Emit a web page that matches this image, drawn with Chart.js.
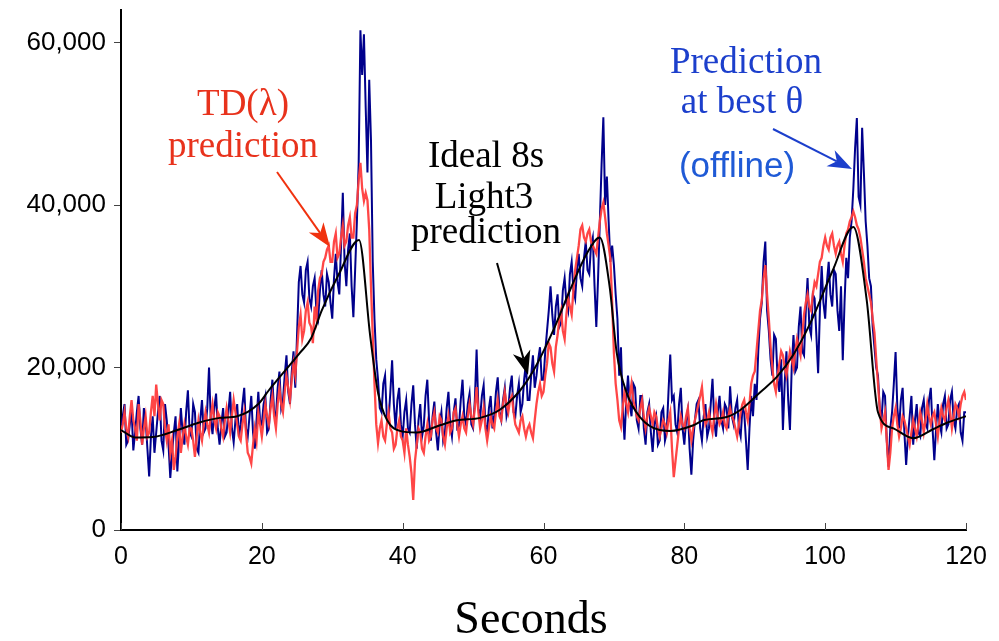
<!DOCTYPE html>
<html>
<head>
<meta charset="utf-8">
<script src="https://cdn.jsdelivr.net/npm/chart.js@4.4.1/dist/chart.umd.min.js"></script>
<style>
  html, body { margin: 0; padding: 0; background: #fff; }
  #wrap { width: 999px; height: 641px; position: relative; }
</style>
</head>
<body>
<div id="wrap"><canvas id="chart"></canvas></div>
<script>
// time grid of the noisy traces (seconds, every 0.25 s)
const times = Array.from({ length: 481 }, (_, i) => i * 0.25);

// offline prediction at best theta (dark blue), one row = 5 s
const offlineValues = [
  12500, 14000, 15500, 10500, 11000, 13000, 14800, 9800, 12000, 14500, 16500, 12500, 10500, 15000, 13500, 10000, 6600, 11500, 14000, 9500,
  12000, 14500, 16500, 11000, 9800, 15500, 13500, 10500, 6400, 9500, 12000, 14000, 7200, 11000, 15000, 12000, 10500, 14500, 17200, 12000,
  11500, 15500, 14500, 10000, 9500, 13500, 16000, 12000, 12500, 15000, 20000, 13500, 11800, 15000, 16800, 12500, 10500, 13000, 15000, 11500,
  12000, 14500, 17000, 12500, 10800, 13500, 15500, 11500, 13000, 15500, 17500, 12500, 11500, 14000, 16500, 12000, 10000, 13500, 17000, 13500,
  13000, 15500, 16500, 12000, 12500, 16000, 18500, 14500, 14000, 17500, 19500, 15000, 16000, 19000, 21500, 17000, 15500, 19500, 22000, 17500,
  24000, 30500, 32500, 29000, 28000, 32000, 33000, 28500, 27500, 30000, 31000, 27000, 26000, 29500, 32000, 29000, 27500, 31500, 30500, 28000,
  26000, 31000, 34000, 30500, 29000, 35000, 41500, 33000, 30000, 34500, 36500, 30000, 26200, 32000, 38000, 45000, 61500, 56000, 61000, 52000,
  44000, 55400, 48000, 33000, 25900, 21000, 18500, 15000, 14500, 18000, 19000, 14000, 13500, 17000, 20900, 15500, 12500, 16000, 17500, 13000,
  11500, 14500, 16000, 12500, 12000, 15500, 17800, 13000, 10000, 13500, 15500, 11500, 12800, 16500, 18500, 13500, 11000, 14000, 15800, 12000,
  9800, 13000, 14500, 11000, 12000, 15000, 17000, 13000, 11500, 14500, 16200, 12500, 12800, 16000, 18500, 14000, 13000, 15500, 16800, 13000,
  12500, 16000, 22200, 15000, 13800, 16500, 17800, 13000, 12000, 15000, 16500, 12500, 14000, 17000, 18800, 14500, 13500, 16000, 17500, 14000,
  15000, 17500, 19000, 14500, 14000, 16500, 18000, 14500, 15500, 18500, 20500, 16000, 16000, 19000, 21500, 17500, 19000, 21000, 22500, 18500,
  18500, 22000, 24500, 27000, 30000, 26500, 24000, 27500, 29000, 25000, 25500, 29500, 31000, 28000, 27000, 31500, 33000, 29500, 28500, 32000,
  34000, 31000, 30000, 33500, 35500, 32000, 31500, 35000, 36000, 30000, 25000, 31000, 38000, 45000, 50800, 40000, 43500, 38000, 33000, 35000,
  32600, 29000, 26000, 19000, 22500, 15000, 11100, 16000, 19000, 15500, 14000, 18000, 17500, 13500, 12500, 16500, 16500, 12500, 10500, 14500,
  15500, 12000, 9600, 13000, 14000, 10500, 11000, 14500, 15000, 11000, 12000, 17000, 21600, 16000, 16500, 13000, 12000, 15500, 17500, 12500,
  10500, 13500, 14800, 10000, 6800, 11000, 13500, 15500, 16000, 12500, 11000, 14000, 15500, 11500, 12500, 15500, 18600, 13500, 11500, 14500,
  16500, 13500, 12500, 15500, 15000, 12500, 17700, 14000, 13000, 15000, 16000, 12500, 11500, 15000, 14500, 11000, 7400, 12500, 16500, 14000,
  18000, 16000, 22000, 26000, 28000, 33000, 35500, 27000, 24500, 21000, 19000, 24000, 23500, 18500, 17000, 21000, 12300, 18000, 22000, 16000,
  12300, 20000, 24000, 19500, 20000, 25000, 27500, 22000, 21500, 27000, 31000, 25000, 24000, 29000, 28500, 24000, 19300, 27000, 32500, 28000,
  26000, 30500, 33000, 29000, 27500, 32000, 31500, 27000, 24500, 30000, 20900, 28000, 33500, 31000, 36000, 38000, 42000, 47000, 50700, 41000,
  40000, 49500, 44000, 38000, 35000, 31000, 30000, 25000, 22500, 20000, 19000, 15000, 13500, 17000, 16500, 11000, 7800, 12500, 14500, 18000,
  21900, 15000, 12500, 16000, 17500, 12000, 8000, 11500, 14000, 16500, 10500, 13500, 15500, 12000, 11500, 15000, 16000, 13000, 12500, 16000,
  17500, 12500, 8600, 12500, 15500, 13000, 12000, 15500, 16500, 12500, 13000, 16000, 17000, 13500, 12500, 15000, 15500, 12000, 11000, 14500,
  14500
];

// TD(lambda) prediction (red), one row = 5 s
const tdValues = [
  12000, 13000, 14500, 12500, 11500, 14000, 16000, 13500, 12500, 11000, 15500, 13500, 10500, 12500, 14000, 11500, 12000, 14500, 16500, 14000,
  17900, 15500, 13500, 16000, 15500, 12500, 11000, 13000, 9500, 11000, 7400, 9000, 11500, 13000, 9500, 11500, 13000, 11500, 10500, 12500,
  12500, 11000, 9000, 11500, 13500, 12000, 11000, 13000, 14500, 13000, 12000, 14000, 15500, 13500, 12500, 14500, 14000, 12500, 11500, 13500,
  15000, 13500, 12000, 14000, 16000, 14500, 13000, 11500, 11000, 13000, 14500, 12000, 9500, 9000, 8200, 10500, 12500, 11000, 14500, 13000,
  11500, 13500, 15500, 14000, 13000, 15000, 16500, 14000, 12500, 15500, 17500, 15500, 14500, 17000, 19000, 17500, 16000, 18500, 20500, 19000,
  22000, 25000, 26500, 23500, 24500, 27000, 28000, 25500, 25000, 23000, 27500, 26000, 29500, 31000, 31500, 33000, 33500, 34500, 35000, 33000,
  33000, 35500, 36500, 33500, 34000, 36000, 37500, 35000, 35500, 37500, 38500, 36000, 36000, 39000, 40000, 43000, 45200, 42000, 40500, 41500,
  40600, 37000, 30000, 24000, 18000, 13000, 10700, 12500, 13500, 11500, 11000, 13000, 14500, 12500, 12000, 10000, 10500, 12500, 13500, 11500,
  11000, 9500, 12500, 10500, 9000, 7000, 3700, 8500, 10500, 12500, 12000, 10000, 9500, 11500, 13000, 11000, 11500, 13500, 14500, 12500,
  12000, 14000, 13500, 11500, 10500, 12500, 14000, 12000, 12500, 14500, 15000, 13000, 11500, 13000, 14000, 12500, 12000, 14000, 15500, 14000,
  13000, 15000, 17600, 14500, 12500, 13500, 15000, 12500, 11000, 12500, 14000, 13000, 12500, 14500, 16000, 14000, 13500, 15500, 17000, 15500,
  14500, 16000, 16500, 14500, 13000, 12500, 12000, 13500, 14000, 12500, 11500, 12500, 13000, 12000, 11300, 13500, 15500, 17000, 18000, 16500,
  17000, 19000, 20500, 23000, 22500, 20500, 19500, 22500, 24000, 26000, 27000, 24500, 23500, 26500, 28500, 27500, 26500, 29500, 32000, 33500,
  35000, 37000, 37500, 36000, 35500, 36500, 37000, 35500, 35000, 34500, 34000, 36000, 38000, 39500, 40300, 38500, 36500, 35000, 33300, 28000,
  21800, 18000, 16000, 13500, 12700, 15000, 17000, 15500, 14500, 16500, 18000, 16000, 15000, 14000, 13500, 15000, 16000, 14000, 12500, 14000,
  15000, 14000, 13000, 14500, 14000, 12500, 11500, 12500, 13500, 13000, 12000, 13500, 14500, 10000, 6500, 8500, 10500, 12500, 14000, 13000,
  12500, 14000, 15000, 12500, 11000, 12500, 13500, 14500, 15500, 16500, 17600, 15000, 13000, 13500, 14500, 13000, 12000, 14000, 15500, 14000,
  13000, 13500, 14500, 13000, 12500, 14000, 15000, 14000, 13500, 12500, 11500, 13000, 14500, 15500, 16000, 14500, 13500, 15500, 18000, 19000,
  19500, 22000, 24500, 27000, 28300, 31000, 32600, 29000, 26000, 22500, 20000, 18000, 17000, 19000, 20500, 22000, 21500, 20000, 19000, 20500,
  22000, 21000, 20000, 22000, 23500, 22500, 21500, 24000, 26500, 28000, 29000, 27500, 27000, 29000, 30500, 30000, 31500, 33000, 33500, 35000,
  36000, 35000, 34500, 36000, 36500, 35000, 34000, 35000, 35500, 34000, 33000, 35000, 36500, 37000, 38000, 38500, 39200, 38500, 37500, 37000,
  36000, 34500, 33000, 31000, 30000, 29000, 28000, 26000, 24300, 21000, 18000, 15000, 12500, 13500, 14500, 11000, 7400, 9500, 12500, 14000,
  15000, 13000, 11500, 12500, 14000, 13500, 12500, 11500, 10500, 12000, 13500, 12500, 11500, 13000, 14500, 13500, 12000, 13500, 15500, 14000,
  13000, 14000, 14500, 13000, 11500, 13500, 15000, 14000, 13500, 15000, 16000, 14500, 12500, 14000, 15500, 15000, 14000, 15500, 16500, 17000,
  16000
];

// Ideal 8s Light3 prediction (black, smooth)
const idealTimes = [0, 2, 4.5, 8, 11, 14, 16.5, 19.5, 21, 23, 25.4, 27, 28.5, 31, 33.8,
  35.4, 36.5, 37.8, 39.6, 42, 45.3, 47.7, 51, 53.8, 56.7, 58.5, 61.4, 63.8, 66.2, 68,
  69.4, 70.4, 71.8, 73.7, 76.5, 78, 81.3, 82.7, 86, 88, 90.7, 93.2, 95.5, 97.8, 101.1, 104,
  105.9, 107.5, 109.7, 112.5, 115.3, 117.3, 120];
const idealValues = [12300, 11400, 11450, 12300, 13200, 13800, 14000, 15500, 17200, 19300, 21800, 23600, 27000, 31600, 35700,
  23800, 16900, 13500, 12200, 12000, 12900, 13500, 13800, 14800, 17200, 19500, 24600, 29600, 34100, 36000,
  29900, 21800, 16900, 13900, 12300, 12200, 12900, 13500, 13900, 14800, 16900, 18900, 21600, 25300, 32000, 37300,
  28300, 14500, 12500, 11300, 12400, 13200, 14000];

const xTicks = [0, 20, 40, 60, 80, 100, 120];
const yTicks = [0, 20000, 40000, 60000];

const pts = (xs, ys) => xs.map((x, i) => ({ x: x, y: ys[i] }));

function drawArrow(ctx, x1, y1, x2, y2, color, lw) {
    const ang = Math.atan2(y2 - y1, x2 - x1);
    const len = 24, half = 9, notch = 7;
    ctx.save();
    ctx.strokeStyle = color;
    ctx.fillStyle = color;
    ctx.lineWidth = lw;
    ctx.beginPath();
    ctx.moveTo(x1, y1);
    ctx.lineTo(x2 - Math.cos(ang) * (len - notch), y2 - Math.sin(ang) * (len - notch));
    ctx.stroke();
    ctx.translate(x2, y2);
    ctx.rotate(ang);
    ctx.beginPath();
    ctx.moveTo(0, 0);
    ctx.lineTo(-len, -half);
    ctx.lineTo(-len + notch, 0);
    ctx.lineTo(-len, half);
    ctx.closePath();
    ctx.fill();
    ctx.restore();
}

// x ticks point inward, labels and annotations drawn here
const extras = {
    id: 'extras',
    afterDraw(chart) {
        const ctx = chart.ctx;
        const xs = chart.scales.x;
        const area = chart.chartArea;
        ctx.save();
        ctx.strokeStyle = '#444';
        ctx.lineWidth = 1;
        xTicks.forEach(v => {
            const px = Math.round(xs.getPixelForValue(v)) + 0.5;
            ctx.beginPath();
            ctx.moveTo(px, area.bottom);
            ctx.lineTo(px, area.bottom - 7);
            ctx.stroke();
        });

        ctx.textAlign = 'center';
        ctx.textBaseline = 'alphabetic';
        ctx.fillStyle = '#000';
        ctx.font = '46px "Liberation Serif", "Times New Roman", serif';
        ctx.fillText('Seconds', 531, 633);

        ctx.font = '37px "Liberation Serif", "Times New Roman", serif';
        ctx.fillStyle = '#e8321c';
        ctx.fillText('TD(λ)', 243, 115);
        ctx.fillText('prediction', 243, 157);

        ctx.fillStyle = '#000';
        ctx.fillText('Ideal 8s', 486, 167);
        ctx.fillText('Light3', 484, 208);
        ctx.fillText('prediction', 486, 243);

        ctx.fillStyle = '#1c3fcc';
        ctx.fillText('Prediction', 746, 73);
        ctx.fillText('at best θ', 742, 113);
        ctx.font = '35px "Liberation Sans", Arial, sans-serif';
        ctx.fillStyle = '#1f5ad6';
        ctx.fillText('(offline)', 737, 177);
        ctx.restore();

        drawArrow(ctx, 277, 172, 330, 247, '#f0320f', 2);
        drawArrow(ctx, 497, 263, 528, 375, '#000', 2);
        drawArrow(ctx, 773, 129, 852, 169, '#1c3fcc', 2);
    }
};

new Chart(document.getElementById('chart'), {
    type: 'line',
    data: {
        datasets: [
            {
                label: 'Ideal 8s Light3 prediction',
                data: pts(idealTimes, idealValues),
                borderColor: '#000',
                borderWidth: 2,
                pointRadius: 0,
                cubicInterpolationMode: 'monotone',
                order: 0
            },
            {
                label: 'TD(λ) prediction',
                data: pts(times, tdValues),
                borderColor: 'rgba(255,60,60,0.95)',
                borderWidth: 2.3,
                pointRadius: 0,
                tension: 0,
                order: 1
            },
            {
                label: 'Prediction at best θ (offline)',
                data: pts(times, offlineValues),
                borderColor: '#00008c',
                borderWidth: 2,
                pointRadius: 0,
                tension: 0,
                order: 2
            }
        ]
    },
    options: {
        responsive: true,
        maintainAspectRatio: false,
        animation: false,
        layout: { padding: { left: 0, right: 33, top: 10, bottom: 0 } },
        plugins: { legend: { display: false }, tooltip: { enabled: false } },
        scales: {
            x: {
                type: 'linear',
                min: 0,
                max: 120,
                afterBuildTicks: s => { s.ticks = xTicks.map(v => ({ value: v })); },
                afterFit: s => { s.height = 111; },
                grid: { display: false },
                border: { display: true, color: '#000', width: 2 },
                ticks: {
                    padding: 4,
                    color: '#000',
                    font: { family: '"Liberation Sans", Arial, sans-serif', size: 25 }
                }
            },
            y: {
                min: 0,
                max: 64000,
                afterBuildTicks: s => { s.ticks = yTicks.map(v => ({ value: v })); },
                afterFit: s => { s.width = 121; s.paddingTop = 0; s.paddingBottom = 0; },
                grid: { drawOnChartArea: false, tickLength: 7, color: '#444' },
                border: { display: true, color: '#000', width: 2 },
                ticks: {
                    padding: 8,
                    color: '#000',
                    font: { family: '"Liberation Sans", Arial, sans-serif', size: 26 },
                    callback: v => v.toLocaleString('en-US')
                }
            }
        }
    },
    plugins: [extras]
});
</script>
</body>
</html>
